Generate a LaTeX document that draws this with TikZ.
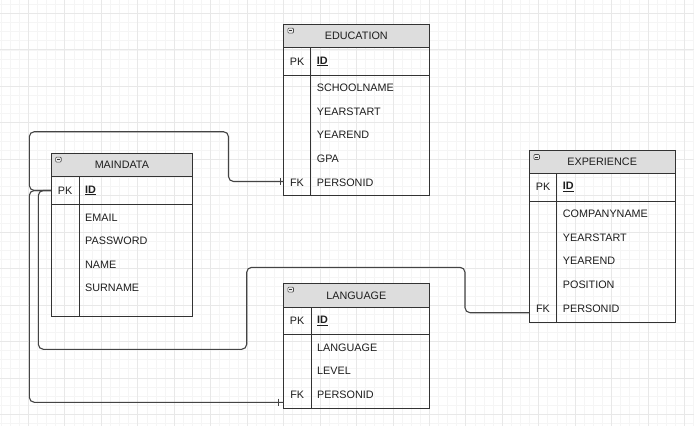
\documentclass[tikz,border=0pt]{standalone}
\usepackage{fontspec}
\setmainfont{Liberation Sans}
\definecolor{gridminor}{HTML}{F5F5F5}
\definecolor{gridmajor}{HTML}{E8E8E8}
\definecolor{hdrfill}{HTML}{DDDDDD}
\definecolor{tbline}{HTML}{333333}
\definecolor{connline}{HTML}{444444}
\definecolor{txt}{HTML}{1E1E1E}
\tikzset{
  tb/.style={draw=tbline, line width=0.9pt},
  conn/.style={draw=connline, line width=1.1pt, rounded corners=5pt},
  tick/.style={draw=connline, line width=1pt},
  ttl/.style={font=\fontsize{10.8}{12}\selectfont, text=txt, inner sep=0pt, anchor=center},
  key/.style={font=\fontsize{10.8}{12}\selectfont, text=txt, inner sep=0pt, anchor=center},
  attr/.style={font=\fontsize{10.8}{12}\selectfont, text=txt, inner sep=0pt, anchor=west},
}
% #1 name, #2 left, #3 right, #4 top, #5 header bottom, #6 pk bottom, #7 bottom, #8 divider x, #9 title
\newcommand\ertab[9]{%
  \fill[hdrfill] (#2,#4) rectangle (#3,#5);
  \draw[tb] (#2,#4) rectangle (#3,#7);
  \draw[tb] (#2,#5) -- (#3,#5);
  \draw[tb] (#2,#6) -- (#3,#6);
  \draw[tb] (#8,#5) -- (#8,#7);
  \draw[draw=black!70, fill=black!8, line width=0.6pt, rounded corners=1pt] ({#2+4.6},{#4+3.8}) rectangle ({#2+10.2},{#4+8.8});
  \draw[black!80, line width=0.7pt] ({#2+6},{#4+6.3}) -- ({#2+8.8},{#4+6.3});
  \node[ttl] (#1-title) at ({(#2+#3)/2},{(#4+#5)/2}) {#9};
  \node[key] (#1-pk) at ({(#2+#8)/2},{(#5+#6)/2}) {PK};
  \node[attr] (#1-id) at ({#8+6},{(#5+#6)/2}) {\textbf{\underline{ID}}};
}
\begin{document}
\begin{tikzpicture}[x=1pt,y=-1pt]
\useasboundingbox (0,0) rectangle (694,426);
\fill[white] (0,0) rectangle (694,426);
% grid
\foreach \i in {0,...,76} {\draw[gridminor, line width=0.5pt] ({0.96+\i*9.1125},0) -- ({0.96+\i*9.1125},426);}
\foreach \i in {0,...,47} {\draw[gridminor, line width=0.5pt] (0,{4.19+\i*9.1125}) -- (694,{4.19+\i*9.1125});}
\foreach \i in {0,...,19} {\draw[gridmajor, line width=0.6pt] ({28.3+\i*36.45},0) -- ({28.3+\i*36.45},426);}
\foreach \i in {0,...,12} {\draw[gridmajor, line width=0.6pt] (0,{13.3+\i*36.45}) -- (694,{13.3+\i*36.45});}

% tables
\ertab{edu}{283.3}{429.3}{24.3}{47.7}{75}{195}{310.7}{EDUCATION}
\node[attr] (edu-a1) at (316.7,87.7) {SCHOOLNAME};
\node[attr] (edu-a2) at (316.7,111.7) {YEARSTART};
\node[attr] (edu-a3) at (316.7,135) {YEAREND};
\node[attr] (edu-a4) at (316.7,159) {GPA};
\node[key] (edu-fk) at (297,182.3) {FK};
\node[attr] (edu-a5) at (316.7,182.3) {PERSONID};

\ertab{md}{51}{192.7}{153.3}{176.7}{204.3}{316.7}{79}{MAINDATA}
\node[attr] (md-a1) at (85,217.7) {EMAIL};
\node[attr] (md-a2) at (85,240.7) {PASSWORD};
\node[attr] (md-a3) at (85,264.3) {NAME};
\node[attr] (md-a4) at (85,287.7) {SURNAME};

\ertab{exp}{529.3}{675}{150.7}{173.3}{201}{322.3}{556.7}{EXPERIENCE}
\node[attr] (exp-a1) at (562.7,213.3) {COMPANYNAME};
\node[attr] (exp-a2) at (562.7,237.7) {YEARSTART};
\node[attr] (exp-a3) at (562.7,260.7) {YEAREND};
\node[attr] (exp-a4) at (562.7,285) {POSITION};
\node[key] (exp-fk) at (543,308.3) {FK};
\node[attr] (exp-a5) at (562.7,308.3) {PERSONID};

\ertab{lang}{283.3}{429.3}{283.3}{307.7}{334.7}{408.7}{311}{LANGUAGE}
\node[attr] (lang-a1) at (317,347.3) {LANGUAGE};
\node[attr] (lang-a2) at (317,371) {LEVEL};
\node[key] (lang-fk) at (297.2,394.7) {FK};
\node[attr] (lang-a3) at (317,394.7) {PERSONID};

% connector end points
\coordinate (mdpk) at (51,190.5);
\coordinate (edufk) at (283.3,181.5);
\coordinate (expfk) at (529.3,312.7);
\coordinate (langfk) at (283.3,402.3);

% connectors
\draw[conn] (mdpk) -- (29.3,190.5) |- (228.5,131.7) |- (edufk);
\draw[conn] (mdpk) -- (38.3,190.5) |- (246.7,349.3) |- (465,267.3) |- (expfk);
\draw[conn] (mdpk) -- (29.3,190.5) |- (langfk);
% ticks
\draw[tick] (280,177.8) -- (280,185.2);
\draw[tick] (278.3,398.6) -- (278.3,406);
\end{tikzpicture}
\end{document}
